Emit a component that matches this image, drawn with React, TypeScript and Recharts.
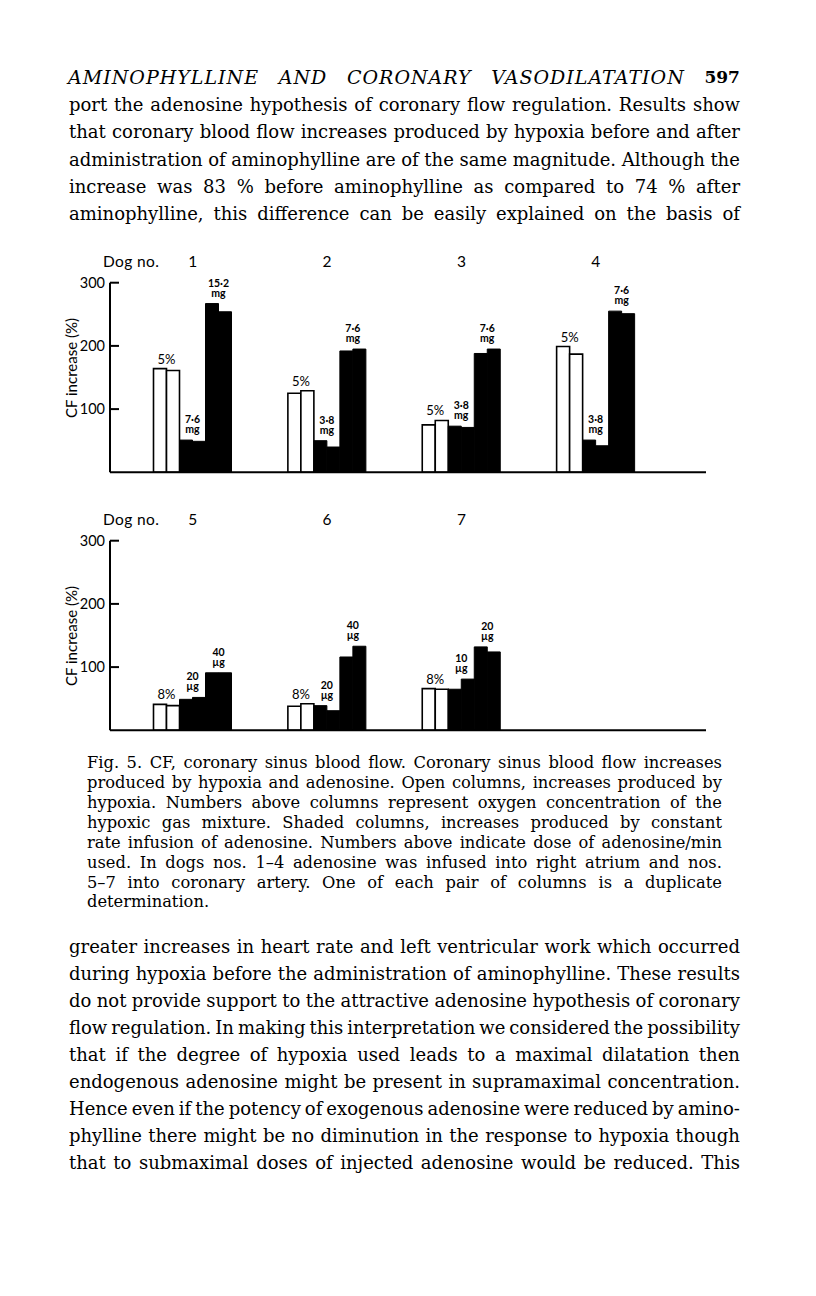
import React from 'react';
import { BarChart, Bar, XAxis, YAxis, LabelList } from 'recharts';

// Dogs 1-4 (adenosine into right atrium)
const topDogs = ['1', '2', '3', '4'];
const topOpenA = [164, 125, 75, 199];
const topOpenB = [161, 129, 82, 187];
const topLowA = [51, 50, 73, 51];
const topLowB = [49, 40, 71, 42];
const topHighA = [267, 192, 188, 255];
const topHighB = [254, 195, 195, 251];
const topO2 = ['5%', '5%', '5%', '5%'];
const topLowDose = ['7·6', '3·8', '3·8', '3·8'];
const topHighDose = ['15·2', '7·6', '7·6', '7·6'];

// Dogs 5-7 (adenosine into coronary artery)
const botDogs = ['5', '6', '7', ''];
const botOpenA = [41, 38, 66, null];
const botOpenB = [39, 42, 65, null];
const botLowA = [49, 39, 65, null];
const botLowB = [52, 31, 81, null];
const botHighA = [91, 116, 132, null];
const botHighB = [91, 133, 124, null];
const botO2 = ['8%', '8%', '8%', ''];
const botLowDose = ['20', '20', '10', ''];
const botHighDose = ['40', '40', '20', ''];

const yTicks = [100, 200, 300];

const headerWords = ['AMINOPHYLLINE', 'AND', 'CORONARY', 'VASODILATATION'];

const paraTop = [
  'port the adenosine hypothesis of coronary flow regulation. Results show',
  'that coronary blood flow increases produced by hypoxia before and after',
  'administration of aminophylline are of the same magnitude. Although the',
  'increase was 83 % before aminophylline as compared to 74 % after',
  'aminophylline, this difference can be easily explained on the basis of',
];
const paraTopY = [104, 131.5, 159, 186, 213];

const caption = [
  'Fig. 5. CF, coronary sinus blood flow. Coronary sinus blood flow increases',
  'produced by hypoxia and adenosine. Open columns, increases produced by',
  'hypoxia. Numbers above columns represent oxygen concentration of the',
  'hypoxic gas mixture. Shaded columns, increases produced by constant',
  'rate infusion of adenosine. Numbers above indicate dose of adenosine/min',
  'used. In dogs nos. 1–4 adenosine was infused into right atrium and nos.',
  '5–7 into coronary artery. One of each pair of columns is a duplicate',
  'determination.',
];
const captionY = [763, 783, 803, 823, 843, 862.5, 882.5, 902];

const paraBot = [
  'greater increases in heart rate and left ventricular work which occurred',
  'during hypoxia before the administration of aminophylline. These results',
  'do not provide support to the attractive adenosine hypothesis of coronary',
  'flow regulation. In making this interpretation we considered the possibility',
  'that if the degree of hypoxia used leads to a maximal dilatation then',
  'endogenous adenosine might be present in supramaximal concentration.',
  'Hence even if the potency of exogenous adenosine were reduced by amino-',
  'phylline there might be no diminution in the response to hypoxia though',
  'that to submaximal doses of injected adenosine would be reduced. This',
];
const paraBotY = [946, 973, 1000, 1027, 1054.5, 1081.5, 1108.5, 1135.5, 1162.5];

const SANS = "Lato, 'Open Sans', sans-serif";
const SERIF = "'DejaVu Serif', serif";

function TextLine({ text, cy, left, width, size, lh, justify = true }: any) {
  const words = text.split(' ');
  return (
    <div
      style={{
        position: 'absolute',
        top: cy - lh / 2,
        left,
        width,
        height: lh,
        lineHeight: lh + 'px',
        fontSize: size,
        fontFamily: SERIF,
        color: '#000',
        display: 'flex',
        justifyContent: justify ? 'space-between' : 'flex-start',
        whiteSpace: 'pre',
      }}
    >
      {justify ? words.map((w: string, i: number) => <span key={i}>{w}</span>) : <span>{text}</span>}
    </div>
  );
}

// label centred over a pair of columns, sitting above the taller one
const pairLabel = (texts: string[], other: (number | null)[], unit: string | null) => (props: any) => {
  const vb = props.viewBox || props;
  const { index, value } = props;
  if (value == null || !texts[index]) return null;
  const x = Number(vb.x), y = Number(vb.y), w = Number(vb.width), h = Number(vb.height);
  const base = y + h;
  const k = value ? h / value : 0;
  const top = Math.min(y, base - (other[index] ?? 0) * k);
  const cx = x + w;
  if (!unit) {
    return (
      <text x={cx} y={top - 5} textAnchor="middle" fontSize={13} fontFamily={SANS} fill="#000">
        {texts[index]}
      </text>
    );
  }
  // dose on first line, unit underneath, in one text element
  return (
    <text x={cx} y={top - 17} textAnchor="middle" fontFamily={SANS} fontWeight={700} fontSize={10.5} fill="#000">
      <tspan x={cx}>{texts[index]}</tspan>
      <tspan x={cx} dy={10}>{unit}</tspan>
    </text>
  );
};

const YTick = (props: any) => {
  const { x, y, payload } = props;
  return (
    <g>
      <line x1={x + 5} x2={x + 14} y1={y} y2={y} stroke="#000" strokeWidth={2} />
      <text x={x} y={y} dy={5} textAnchor="end" fontSize={14.5} fontFamily={SANS} fill="#000">
        {payload.value}
      </text>
    </g>
  );
};

function DogChart({ top, dogs, oa, ob, la, lb, ha, hb, o2, low, high, unit, labelY }: any) {
  const data = dogs.map((d: string, i: number) => ({
    dog: d, oa: oa[i], ob: ob[i], la: la[i], lb: lb[i], ha: ha[i], hb: hb[i],
  }));
  const pad = { left: 15.5, right: 43 };
  return (
    <div style={{ position: 'absolute', left: 0, top, width: 740, height: 250 }}>
      <BarChart
        width={740}
        height={250}
        data={data}
        margin={{ top: 0, right: 34, bottom: 12.7, left: 60 }}
        barGap={0}
        barSize={13}
      >
        <XAxis
          xAxisId="top"
          orientation="top"
          dataKey="dog"
          height={42.7}
          axisLine={false}
          tickLine={false}
          tickSize={0}
          tickMargin={16}
          padding={pad}
          tick={{ fontSize: 15.5, fontFamily: SANS, fill: '#000' }}
          label={{
            content: () => (
              <text x={103} y={26.5} fontSize={15.5} fontFamily={SANS} fill="#000" letterSpacing={0.4}>
                Dog no.
              </text>
            ),
          }}
        />
        <XAxis
          dataKey="dog"
          height={5}
          tick={false}
          tickLine={false}
          padding={pad}
          axisLine={{ stroke: '#000', strokeWidth: 2 }}
        />
        <YAxis
          domain={[0, 300]}
          ticks={yTicks}
          width={50}
          tickSize={0}
          tickMargin={5}
          tickLine={false}
          axisLine={{ stroke: '#000', strokeWidth: 2 }}
          tick={<YTick />}
          label={{
            content: () => (
              <text
                x={71.5}
                y={labelY}
                transform={`rotate(-90 71.5 ${labelY})`}
                textAnchor="middle"
                dy={5}
                fontSize={15}
                fontFamily={SANS}
                fill="#000"
              >
                CF increase (%)
              </text>
            ),
          }}
        />
        <Bar dataKey="oa" fill="#fff" stroke="#000" strokeWidth={1.6} isAnimationActive={false}>
          <LabelList dataKey="oa" content={pairLabel(o2, ob, null)} />
        </Bar>
        <Bar dataKey="ob" fill="#fff" stroke="#000" strokeWidth={1.6} isAnimationActive={false} />
        <Bar dataKey="la" fill="#000" stroke="#000" strokeWidth={1} isAnimationActive={false}>
          <LabelList dataKey="la" content={pairLabel(low, lb, unit)} />
        </Bar>
        <Bar dataKey="lb" fill="#000" stroke="#000" strokeWidth={1} isAnimationActive={false} />
        <Bar dataKey="ha" fill="#000" stroke="#000" strokeWidth={1} isAnimationActive={false}>
          <LabelList dataKey="ha" content={pairLabel(high, hb, unit)} />
        </Bar>
        <Bar dataKey="hb" fill="#000" stroke="#000" strokeWidth={1} isAnimationActive={false} />
      </BarChart>
    </div>
  );
}

export default function App() {
  return (
    <div style={{ position: 'relative', width: 816, height: 1296, background: '#fff', overflow: 'hidden' }}>
      <style>{'body{margin:0;background:#fff}'}</style>
      <div
        style={{
          position: 'absolute',
          top: 77 - 14,
          left: 68,
          width: 672,
          height: 28,
          lineHeight: '28px',
          display: 'flex',
          justifyContent: 'space-between',
          fontFamily: SERIF,
          fontSize: 19,
          color: '#000',
        }}
      >
        {headerWords.map((w) => (
          <span key={w} style={{ fontStyle: 'italic', letterSpacing: 1 }}>{w}</span>
        ))}
        <span style={{ fontSize: 17, fontWeight: 700 }}>597</span>
      </div>
      {paraTop.map((t, i) => (
        <TextLine key={'a' + i} text={t} cy={paraTopY[i]} left={69} width={671} size={18} lh={27} />
      ))}
      <DogChart
        top={240}
        dogs={topDogs}
        oa={topOpenA}
        ob={topOpenB}
        la={topLowA}
        lb={topLowB}
        ha={topHighA}
        hb={topHighB}
        o2={topO2}
        low={topLowDose}
        high={topHighDose}
        unit="mg"
        labelY={128}
      />
      <DogChart
        top={498}
        dogs={botDogs}
        oa={botOpenA}
        ob={botOpenB}
        la={botLowA}
        lb={botLowB}
        ha={botHighA}
        hb={botHighB}
        o2={botO2}
        low={botLowDose}
        high={botHighDose}
        unit="µg"
        labelY={138}
      />
      {caption.map((t, i) => (
        <TextLine
          key={'c' + i}
          text={t}
          cy={captionY[i]}
          left={87}
          width={635}
          size={16.3}
          lh={20}
          justify={i < caption.length - 1}
        />
      ))}
      {paraBot.map((t, i) => (
        <TextLine key={'b' + i} text={t} cy={paraBotY[i]} left={69} width={671} size={18} lh={27} />
      ))}
    </div>
  );
}
